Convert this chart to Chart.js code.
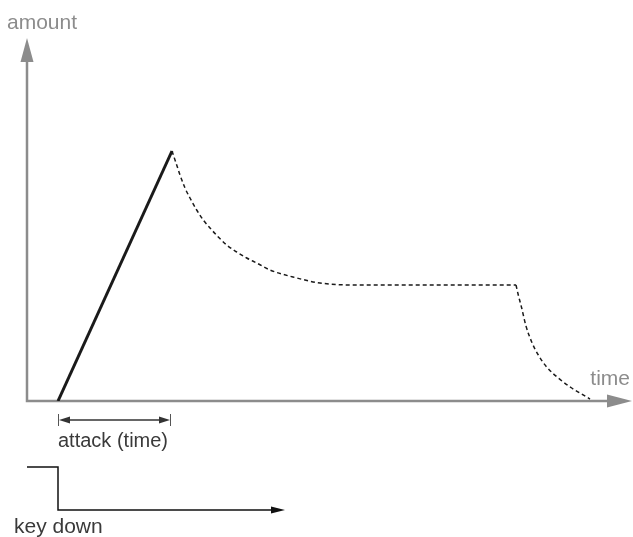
<!DOCTYPE html>
<html>
<head>
<meta charset="utf-8">
<script src="https://cdn.jsdelivr.net/npm/chart.js@4"></script>
<style>
  html, body { margin: 0; padding: 0; background: #fff; }
  #wrap { width: 633px; height: 537px; }
</style>
</head>
<body>
<div id="wrap"><canvas id="envChart"></canvas></div>
<script>
// diagram units: the axes cross at (0, 0)
const attackTime = [3.1, 14.5];
const attackAmount = [0, 25];
const decayTime = [14.5, 14.97, 15.3, 15.8, 16.3, 16.97, 17.63, 18.3, 19.13, 19.97, 20.97, 21.97, 22.97, 24.3, 26.6, 29.3, 32.6, 48.9];
const decayAmount = [25, 23.6, 22.6, 21.3, 20.3, 19.1, 18.1, 17.3, 16.4, 15.6, 14.9, 14.3, 13.8, 13.1, 12.4, 11.8, 11.6, 11.6];
const releaseTime = [48.9, 49.13, 49.47, 49.87, 50.47, 51.13, 51.97, 53.13, 54.47, 55.97, 56.3];
const releaseAmount = [11.6, 10.6, 9.3, 7.6, 5.9, 4.6, 3.4, 2.3, 1.3, 0.4, 0.2];
const keyTime = [0, 3.1, 3.1, 24.6];
const keyLevel = [-6.6, -6.6, -10.9, -10.9];
const keyArrowEnd = 25.8;
const axisMax = [60.5, 36.3];
const attackMarkLevel = -1.9;

const toPoints = (xs, ys) => xs.map((x, i) => ({ x: x, y: ys[i] }));

function arrowHead(ctx, x, y, dx, dy, len, half) {
    // tip at (x, y), pointing along (dx, dy)
    ctx.beginPath();
    ctx.moveTo(x, y);
    ctx.lineTo(x - dx * len - dy * half, y - dy * len + dx * half);
    ctx.lineTo(x - dx * len + dy * half, y - dy * len - dx * half);
    ctx.closePath();
    ctx.fill();
}

const diagramPlugin = {
    id: 'diagram',
    beforeDatasetsDraw(chart) {
        const ctx = chart.ctx;
        const xs = chart.scales.x, ys = chart.scales.y;
        const x0 = xs.getPixelForValue(0), y0 = ys.getPixelForValue(0);
        const xEnd = xs.getPixelForValue(axisMax[0]), yEnd = ys.getPixelForValue(axisMax[1]);
        ctx.save();
        ctx.strokeStyle = '#8c8c8c';
        ctx.fillStyle = '#8c8c8c';
        ctx.lineWidth = 2.5;
        ctx.beginPath();
        ctx.moveTo(x0, y0);
        ctx.lineTo(xEnd - 20, y0);
        ctx.moveTo(x0, y0 + 1.2);
        ctx.lineTo(x0, yEnd + 20);
        ctx.stroke();
        arrowHead(ctx, xEnd, y0, 1, 0, 25, 6.5);
        arrowHead(ctx, x0, yEnd, 0, -1, 24, 6.5);
        ctx.restore();
    },
    afterDatasetsDraw(chart) {
        const ctx = chart.ctx;
        const xs = chart.scales.x, ys = chart.scales.y;
        const x0 = xs.getPixelForValue(0), y0 = ys.getPixelForValue(0);
        const yEnd = ys.getPixelForValue(axisMax[1]);
        const xEnd = xs.getPixelForValue(axisMax[0]);
        ctx.save();

        // attack duration marker
        const a1 = xs.getPixelForValue(attackTime[0]);
        const a2 = xs.getPixelForValue(attackTime[1]) - 2;
        const ay = ys.getPixelForValue(attackMarkLevel);
        ctx.strokeStyle = '#555';
        ctx.lineWidth = 1;
        ctx.beginPath();
        ctx.moveTo(a1 + 0.5, ay - 6);
        ctx.lineTo(a1 + 0.5, ay + 6);
        ctx.moveTo(a2 + 0.5, ay - 6);
        ctx.lineTo(a2 + 0.5, ay + 6);
        ctx.stroke();
        ctx.strokeStyle = '#333';
        ctx.lineWidth = 1.5;
        ctx.beginPath();
        ctx.moveTo(a1 + 8, ay);
        ctx.lineTo(a2 - 8, ay);
        ctx.stroke();
        ctx.fillStyle = '#333';
        arrowHead(ctx, a1 + 1, ay, -1, 0, 11, 3.5);
        arrowHead(ctx, a2, ay, 1, 0, 11, 3.5);

        // key down arrow head
        const kx = xs.getPixelForValue(keyArrowEnd);
        const ky = ys.getPixelForValue(keyLevel[keyLevel.length - 1]);
        ctx.fillStyle = '#111';
        arrowHead(ctx, kx, ky, 1, 0, 14, 3.5);

        // labels
        ctx.font = '21px "Liberation Sans", Arial, sans-serif';
        ctx.textBaseline = 'alphabetic';
        ctx.fillStyle = '#8c8c8c';
        ctx.textAlign = 'left';
        ctx.fillText('amount', x0 - 20, yEnd - 9);
        ctx.textAlign = 'right';
        ctx.fillText('time', xEnd - 2, y0 - 16);
        ctx.fillStyle = '#3a3a3a';
        ctx.textAlign = 'left';
        ctx.fillText('key down', x0 - 13, ky + 23);
        ctx.font = '20px "Liberation Sans", Arial, sans-serif';
        ctx.fillText('attack (time)', a1, ay + 27);
        ctx.restore();
    }
};

document.addEventListener("DOMContentLoaded", () => {
    const envChart = new Chart(document.getElementById("envChart"), {
        type: 'scatter',
        data: {
            datasets: [{
                label: "attack",
                data: toPoints(attackTime, attackAmount),
                showLine: true,
                borderColor: "#1a1a1a",
                borderWidth: 3,
                pointRadius: 0
            }, {
                label: "decay / sustain",
                data: toPoints(decayTime, decayAmount),
                showLine: true,
                borderColor: "#1a1a1a",
                borderWidth: 1.5,
                borderDash: [4, 3],
                cubicInterpolationMode: 'monotone',
                pointRadius: 0
            }, {
                label: "release",
                data: toPoints(releaseTime, releaseAmount),
                showLine: true,
                borderColor: "#1a1a1a",
                borderWidth: 1.5,
                borderDash: [4, 3],
                cubicInterpolationMode: 'monotone',
                pointRadius: 0
            }, {
                label: "key down",
                data: toPoints(keyTime, keyLevel),
                showLine: true,
                borderColor: "#111",
                borderWidth: 1.5,
                pointRadius: 0,
                clip: false
            }]
        },
        options: {
            responsive: true,
            maintainAspectRatio: false,
            animation: false,
            layout: { padding: { left: 27, right: 1, top: 38, bottom: 136 } },
            plugins: { legend: { display: false }, tooltip: { enabled: false } },
            scales: {
                x: { type: 'linear', min: 0, max: axisMax[0], display: false },
                y: { type: 'linear', min: 0, max: axisMax[1], display: false }
            }
        },
        plugins: [diagramPlugin]
    });
});
</script>
</body>
</html>
